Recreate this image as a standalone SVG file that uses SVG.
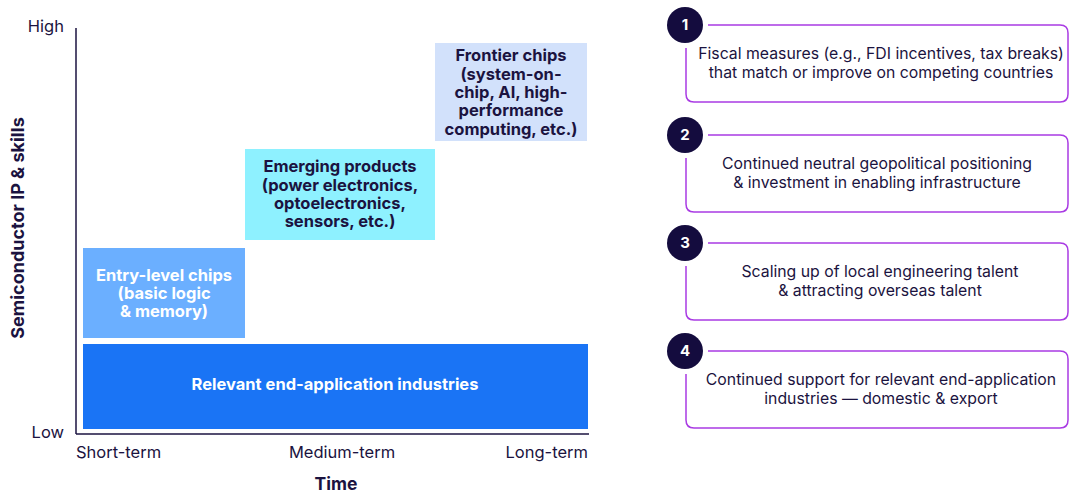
<svg xmlns="http://www.w3.org/2000/svg" width="1069" height="493" viewBox="0 0 1069 493">
  <style>
    text { font-family: Inter, "Liberation Sans", sans-serif; fill: #1b1340; }
    .ax { font-size: 16.5px; }
    .axb { font-weight: 700; }
    .bx { font-size: 16.5px; font-weight: 700; text-anchor: middle; }
    .wt { fill: #ffffff; }
    .lv { font-size: 15.8px; text-anchor: middle; }
    .num { font-size: 15px; font-weight: 700; fill: #ffffff; text-anchor: middle; }
    .frame { fill: none; stroke: #a93be3; stroke-width: 1.5; }
    .badge { fill: #140c3e; }
  </style>

  <!-- chart axes -->
  <g id="axes" stroke="#1b1340" stroke-width="1.5" fill="none">
    <line x1="76" y1="28" x2="76" y2="434"/>
    <line x1="76" y1="434" x2="589" y2="434"/>
  </g>
  <g id="axis-labels">
    <text class="ax" x="64" y="32" text-anchor="end">High</text>
    <text class="ax" x="64" y="438" text-anchor="end">Low</text>
    <text class="axb" font-size="18" transform="translate(24,228) rotate(-90)" text-anchor="middle">Semiconductor IP &amp; skills</text>
    <text class="ax" x="76" y="458">Short-term</text>
    <text class="ax" x="342" y="458" text-anchor="middle">Medium-term</text>
    <text class="ax" x="588" y="458" text-anchor="end">Long-term</text>
    <text class="axb" font-size="17.5" x="336" y="490" text-anchor="middle">Time</text>
  </g>

  <!-- stacked capability blocks -->
  <g id="end-application">
    <rect x="83" y="344" width="505" height="85" fill="#1a74f5"/>
    <text class="bx wt" x="335" y="390">Relevant end-application industries</text>
  </g>
  <g id="entry-level">
    <rect x="83" y="248" width="162" height="90" fill="#6bafff"/>
    <text class="bx wt" x="164" y="281">Entry-level chips</text>
    <text class="bx wt" x="164" y="299">(basic logic</text>
    <text class="bx wt" x="164" y="317">&amp; memory)</text>
  </g>
  <g id="emerging">
    <rect x="245" y="149" width="190" height="91" fill="#8ef1ff"/>
    <text class="bx" x="340" y="172">Emerging products</text>
    <text class="bx" x="340" y="191">(power electronics,</text>
    <text class="bx" x="340" y="209">optoelectronics,</text>
    <text class="bx" x="340" y="227">sensors, etc.)</text>
  </g>
  <g id="frontier">
    <rect x="435" y="43" width="152" height="98" fill="#d2e1fb"/>
    <text class="bx" x="511" y="61">Frontier chips</text>
    <text class="bx" x="511" y="80">(system-on-</text>
    <text class="bx" x="511" y="98">chip, AI, high-</text>
    <text class="bx" x="511" y="116">performance</text>
    <text class="bx" x="511" y="135">computing, etc.)</text>
  </g>

  <!-- enabling levers -->
  <g id="lever-1">
    <path class="frame" d="M708 25 H1060 Q1068 25 1068 33 V94 Q1068 102 1060 102 H694 Q686 102 686 94 V48"/>
    <circle class="badge" cx="685" cy="25" r="18"/>
    <text class="num" x="685" y="30">1</text>
    <text class="lv" x="881" y="59">Fiscal measures (e.g., FDI incentives, tax breaks)</text>
    <text class="lv" x="881" y="78">that match or improve on competing countries</text>
  </g>
  <g id="lever-2">
    <path class="frame" d="M708 135 H1060 Q1068 135 1068 143 V204 Q1068 212 1060 212 H694 Q686 212 686 204 V158"/>
    <circle class="badge" cx="685" cy="135" r="18"/>
    <text class="num" x="685" y="140">2</text>
    <text class="lv" x="877" y="169">Continued neutral geopolitical positioning</text>
    <text class="lv" x="877" y="188">&amp; investment in enabling infrastructure</text>
  </g>
  <g id="lever-3">
    <path class="frame" d="M708 243 H1060 Q1068 243 1068 251 V312 Q1068 320 1060 320 H694 Q686 320 686 312 V266"/>
    <circle class="badge" cx="685" cy="243" r="18"/>
    <text class="num" x="685" y="248">3</text>
    <text class="lv" x="880" y="277">Scaling up of local engineering talent</text>
    <text class="lv" x="880" y="296">&amp; attracting overseas talent</text>
  </g>
  <g id="lever-4">
    <path class="frame" d="M708 351 H1060 Q1068 351 1068 359 V420 Q1068 428 1060 428 H694 Q686 428 686 420 V374"/>
    <circle class="badge" cx="685" cy="351" r="18"/>
    <text class="num" x="685" y="356">4</text>
    <text class="lv" x="881" y="385">Continued support for relevant end-application</text>
    <text class="lv" x="881" y="404">industries — domestic &amp; export</text>
  </g>
</svg>
